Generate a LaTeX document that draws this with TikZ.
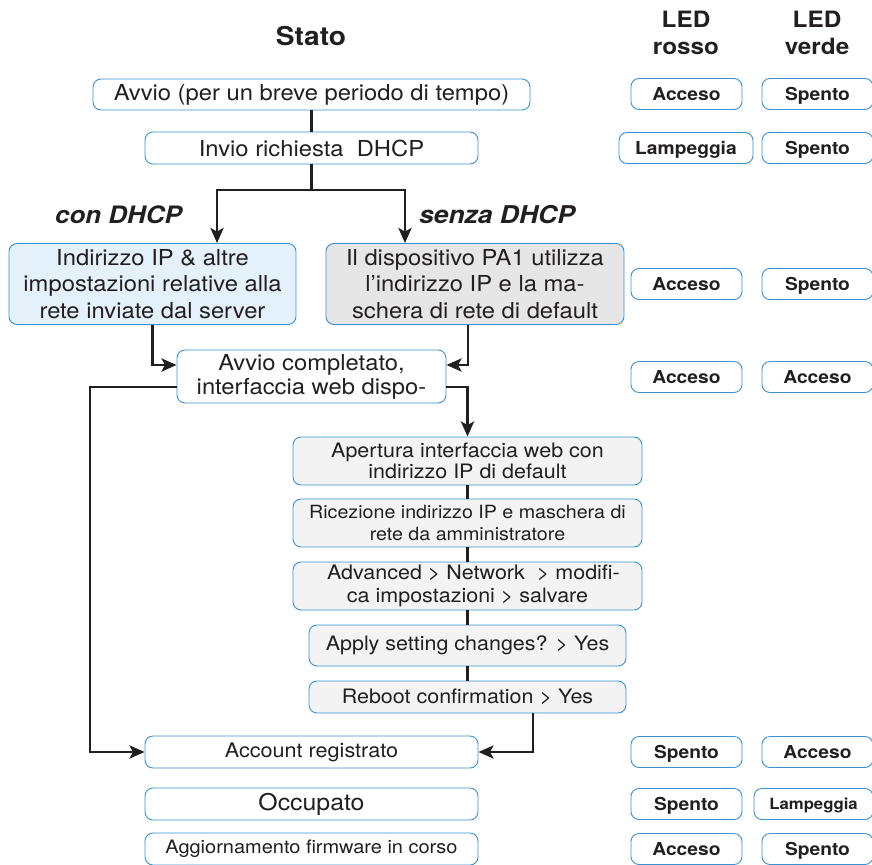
\documentclass[tikz,border=0pt]{standalone}
\usepackage{fontspec}
\setmainfont{TeX Gyre Heros}[FakeStretch=1.08]
\usepackage{tikz}
\usetikzlibrary{arrows.meta, positioning, calc}
\definecolor{boxblue}{HTML}{3A92D0}
\definecolor{ipblue}{HTML}{E4F1FA}
\definecolor{defgray}{HTML}{E6E6E6}
\definecolor{stepgray}{HTML}{F3F3F3}
\definecolor{ink}{HTML}{231F20}
\newcommand{\fsz}[2]{\fontsize{#1}{#2}\selectfont}
\tikzset{
	every node/.style={
		align=center,
		text=ink,
	},
}
\tikzstyle{stbox} = [draw=boxblue, line width=0.9pt, rounded corners=8pt, inner sep=0pt, fill=white]
\tikzstyle{ledbox} = [stbox, minimum height=31pt, text height=12.8pt, text depth=0pt, font=\fsz{17.8}{20}\bfseries]
\tikzstyle{flow} = [draw=ink, line width=2.9pt]
\tikzstyle{flowarrow} = [flow, -{Stealth[length=15pt,width=13pt,inset=3.5pt]}]

\begin{document}
\begin{tikzpicture}[x=1pt, y=-1pt]
    \useasboundingbox (0,0) rectangle (872,864);

    \node (st) [font=\fsz{26}{30}\bfseries] at (311,36) {Stato};
    \node (lr) [font=\fsz{22.5}{27}\bfseries] at (686,33) {LED\\rosso};
    \node (lv) [font=\fsz{22.5}{27}\bfseries] at (817,33) {LED\\verde};

    \node (av) [stbox, minimum width=437pt, minimum height=31pt, font=\fsz{22}{26}] at (311.5,94.5) {Avvio (per un breve periodo di tempo)};
    \node (dh) [stbox, minimum width=333pt, minimum height=32pt, font=\fsz{22}{26}] at (311.5,148) {Invio richiesta \ DHCP};

    \node (cd) [font=\fsz{24}{28}\bfseries\itshape] at (118.5,215) {con DHCP};
    \node (sd) [font=\fsz{24.5}{28}\bfseries\itshape] at (497,215) {senza DHCP};

    \node (ip) [stbox, fill=ipblue, minimum width=287pt, minimum height=81pt, font=\fsz{22}{26.5}] at (152.5,284) {Indirizzo IP \& altre\\impostazioni relative alla\\rete inviate dal server};
    \node (df) [stbox, fill=defgray, minimum width=298pt, minimum height=81pt, font=\fsz{22}{26.5}] at (475,284) {Il dispositivo PA1 utilizza\\l'indirizzo IP e la ma-\\schera di rete di default};

    \node (ok) [stbox, minimum width=269pt, minimum height=53pt, font=\fsz{22}{24}] at (311.5,376.5) {Avvio completato,\\interfaccia web dispo-};

    \node (wu) [stbox, fill=stepgray, minimum width=349pt, minimum height=48pt, font=\fsz{19.9}{21.5}] at (467.5,461) {Apertura interfaccia web con\\indirizzo IP di default};
    \node (ri) [stbox, fill=stepgray, minimum width=349pt, minimum height=48pt, font=\fsz{18.2}{21.5}] at (467.5,523) {Ricezione indirizzo IP e maschera di\\rete da amministratore};
    \node (an) [stbox, fill=stepgray, minimum width=349pt, minimum height=48pt, font=\fsz{19.9}{22.5}] at (467.5,586) {\ \ Advanced > Network \ > modifi-\\ca impostazioni > salvare};
    \node (ap) [stbox, fill=stepgray, minimum width=317pt, minimum height=41pt, font=\fsz{19.9}{22}] at (467.5,645.5) {Apply setting changes? > Yes};
    \node (rb) [stbox, fill=stepgray, minimum width=317pt, minimum height=32pt, font=\fsz{19.9}{22}] at (467.5,697) {Reboot confirmation > Yes};

    \node (ac) [stbox, minimum width=333pt, minimum height=32pt, font=\fsz{20}{22}] at (311.5,752) {Account registrato};
    \node (oc) [stbox, minimum width=333pt, minimum height=32pt, font=\fsz{23}{26}] at (311.5,804) {Occupato};
    \node (fw) [stbox, minimum width=333pt, minimum height=32pt, font=\fsz{18.5}{22}] at (311.5,849) {Aggiornamento firmware in corso};

    % LED rosso
    \node (r1) [ledbox, minimum width=111pt] at (686.5,94) {Acceso};
    \node (r2) [ledbox, minimum width=134pt] at (686,148) {Lampeggia};
    \node (r3) [ledbox, minimum width=111pt] at (686.5,284) {Acceso};
    \node (r4) [ledbox, minimum width=111pt] at (686.5,377) {Acceso};
    \node (r5) [ledbox, minimum width=111pt] at (686.5,752) {Spento};
    \node (r6) [ledbox, minimum width=111pt] at (686.5,804) {Spento};
    \node (r7) [ledbox, minimum width=111pt] at (686.5,849) {Acceso};

    % LED verde
    \node (v1) [ledbox, minimum width=111pt] at (817.5,94) {Spento};
    \node (v2) [ledbox, minimum width=111pt] at (817.5,148) {Spento};
    \node (v3) [ledbox, minimum width=111pt] at (817.5,284) {Spento};
    \node (v4) [ledbox, minimum width=111pt] at (817.5,377) {Acceso};
    \node (v5) [ledbox, minimum width=111pt] at (817.5,752) {Acceso};
    \node (v6) [ledbox, minimum width=119pt, text height=11pt, font=\fsz{15.5}{18}\bfseries] at (813.5,804) {Lampeggia};
    \node (v7) [ledbox, minimum width=111pt] at (817.5,849) {Spento};

    \coordinate (sp) at (311.5,190);
    \coordinate (lb) at (217,190);
    \coordinate (rb2) at (405,190);
    \coordinate (lc) at (90,752);

    \draw [flow] (av) -- (dh);
    \draw [flow] (dh) -- (sp);
    \draw [flowarrow] (sp) -| (lb |- ip.north);
    \draw [flowarrow] (sp) -| (rb2 |- df.north);

    \draw [flowarrow] (ip.south) |- ([yshift=11.5pt]ok.west);
    \draw [flowarrow] ([xshift=-7pt]df.south) |- ([yshift=11.5pt]ok.east);

    \draw [flowarrow] ([yshift=-10.5pt]ok.east) -| (wu.north);
    \draw [flowarrow] ([yshift=-10.5pt]ok.west) -| (lc) -- (ac.west);

    \draw [flow] (wu) -- (ri);
    \draw [flow] (ri) -- (an);
    \draw [flow] (an) -- (ap);
    \draw [flow] (ap) -- (rb);
    \draw [flowarrow] ([xshift=65.5pt]rb.south) |- (ac.east);

\end{tikzpicture}
\end{document}
